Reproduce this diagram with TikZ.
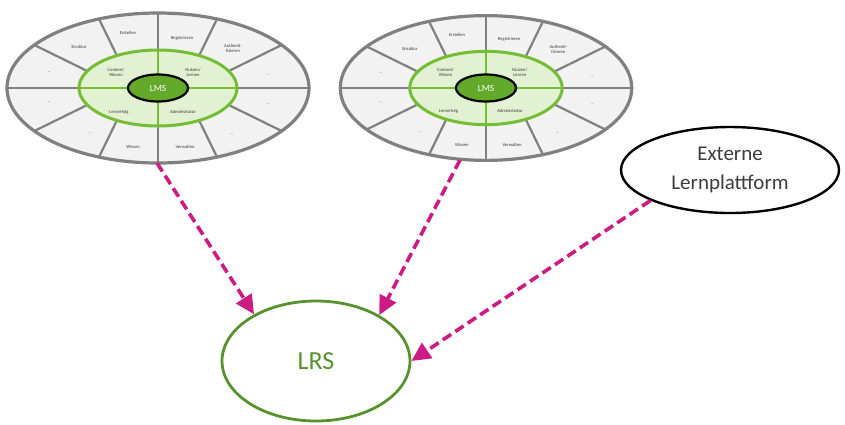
\documentclass[tikz,border=0pt]{standalone}
\usepackage{fontspec}
\setmainfont{Carlito}
\usetikzlibrary{shapes.geometric,arrows.meta}

\definecolor{ringgray}{RGB}{128,128,128}
\definecolor{ringfill}{RGB}{242,242,242}
\definecolor{leafgreen}{RGB}{116,190,54}
\definecolor{palegreen}{RGB}{226,241,210}
\definecolor{coregreen}{RGB}{100,170,42}
\definecolor{lrsgreen}{RGB}{88,146,46}
\definecolor{linkpink}{RGB}{204,28,132}
\definecolor{textgray}{RGB}{60,60,60}

\tikzset{
  outerring/.style={draw=ringgray, fill=ringfill, line width=3.2pt},
  spoke/.style={draw=ringgray, line width=2.2pt},
  innerring/.style={draw=leafgreen, fill=palegreen, line width=3pt},
  innerspoke/.style={draw=leafgreen, line width=2.6pt},
  corenode/.style={ellipse, draw=black, fill=coregreen, line width=2.2pt,
    minimum width=60pt, minimum height=27pt, inner sep=0pt,
    text=white, font=\fontsize{9.5}{10}\selectfont},
  segtext/.style={inner sep=0pt, align=center, text=textgray,
    font=\fontsize{4.6}{5}\selectfont},
  link/.style={draw=linkpink, line width=3.6pt, dash pattern=on 10pt off 5pt,
    -{Triangle[length=19pt,width=18pt]}},
  lrsnode/.style={ellipse, draw=lrsgreen, line width=2.8pt, fill=white,
    minimum width=188pt, minimum height=120pt, text=lrsgreen,
    font=\fontsize{26}{30}\selectfont},
  extnode/.style={ellipse, draw=black, line width=2.4pt, fill=white,
    minimum width=218pt, minimum height=86pt, align=center, text=textgray,
    font=\fontsize{21}{29}\selectfont}
}

% One LMS wheel: #1 name, #2 centre, #3 scale
\newcommand\lmswheel[3]{%
\begin{scope}[shift={#2}, scale=#3]
  \draw[outerring] (0,0) ellipse [x radius=151pt, y radius=75pt];
  % segment borders: inner angle / outer angle
  \foreach \i/\o in {27/35,59/67,121/113,153/145,207/215,239/247,301/293,333/325}
    \draw[spoke] (\i:80 and 38) -- (\o:151 and 75);
  \draw[spoke] (-151,0) -- (151,0);
  \draw[spoke] (0,-75) -- (0,75);
  \draw[innerring] (0,0) ellipse [x radius=79pt, y radius=38pt];
  \draw[innerspoke] (-79,0) -- (79,0);
  \draw[innerspoke] (0,-38) -- (0,38);
  % outer segments, upper half
  \node[segtext] (#1-s1) at (-109,-15) {--};
  \node[segtext] (#1-s2) at (-79,-41) {Struktur};
  \node[segtext] (#1-s3) at (-30,-55) {Erstellen};
  \node[segtext] (#1-s4) at (24,-50) {Registrieren};
  \node[segtext] (#1-s5) at (75,-40) {Authenti-\\fizieren};
  \node[segtext] (#1-s6) at (110,-12) {--};
  % outer segments, lower half
  \node[segtext] (#1-s7) at (-109,15) {--};
  \node[segtext] (#1-s8) at (-68,46) {--};
  \node[segtext] (#1-s9) at (-25,59) {Wissen};
  \node[segtext] (#1-s10) at (27,59) {Verwalten};
  \node[segtext] (#1-s11) at (74,47) {--};
  \node[segtext] (#1-s12) at (110,17) {--};
  % inner quadrants
  \node[segtext] (#1-q1) at (-42,-16) {Content/\\Wissen};
  \node[segtext] (#1-q2) at (35,-16) {Nutzen/\\Lernen};
  \node[segtext] (#1-q3) at (-39,24) {Lernerfolg};
  \node[segtext] (#1-q4) at (25,24) {Administrator};
  \node[corenode] (#1) at (0,0) {LMS};
\end{scope}}

\begin{document}
\begin{tikzpicture}[x=1pt, y=-1pt]
  \useasboundingbox (0,0) rectangle (845,424);

  \lmswheel{lmsA}{(158,88)}{1}
  \lmswheel{lmsB}{(486,88)}{0.965}

  \node[extnode] (ext) at (730,170) {Externe\\Lernplattform};
  \node[lrsnode] (lrs) at (316,361) {LRS};

  \coordinate (footA) at (157,163);
  \coordinate (footB) at (460,160);

  \draw[link] (footA) -- (lrs.143);
  \draw[link] (footB) -- (lrs.36);
  \draw[link] (ext.201) -- (lrs.0);
\end{tikzpicture}
\end{document}
